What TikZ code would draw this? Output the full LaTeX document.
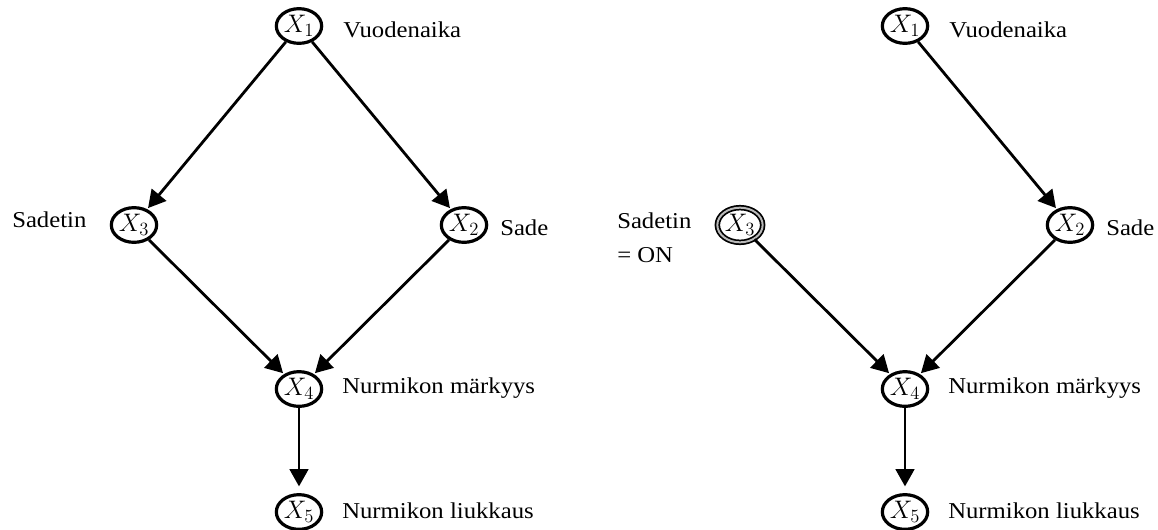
\RequirePackage{fix-cm}
\documentclass[tikz,border=0pt]{standalone}
\usepackage{fontspec}
\setmainfont[FakeStretch=1.09]{Liberation Serif}
\DeclareMathSizes{18}{19}{14}{10}
\usetikzlibrary{arrows.meta,shapes.geometric}
\begin{document}
\begin{tikzpicture}[x=0.75pt,y=-0.75pt,
  var/.style={ellipse,draw,line width=2.4pt,minimum width=34pt,minimum height=26pt,inner sep=0pt,font=\fontsize{18}{21}\selectfont},
  obs/.style={var,line width=1.3pt,double=gray!55,double distance=1.5pt},
  lbl/.style={anchor=base west,inner sep=0pt,font=\fontsize{17}{25.5}\selectfont,align=left},
  edge/.style={line width=2.1pt,-{Triangle[length=13pt,width=14pt]},shorten >=1pt}]
\useasboundingbox (0,0) rectangle (1158,529);
% left diagram
\node[var] (l1) at (299,26) {$X_1$};
\node[var] (l3) at (134,225) {$X_3$};
\node[var] (l2) at (464,225) {$X_2$};
\node[var] (l4) at (299,389) {$X_4$};
\node[var] (l5) at (299,512) {$X_5$};
\node[lbl] (t1) at (343,37) {Vuodenaika};
\node[lbl] (t3) at (12,227) {Sadetin};
\node[lbl] (t2) at (500,235) {Sade};
\node[lbl] (t4) at (342,393) {Nurmikon märkyys};
\node[lbl] (t5) at (342,518) {Nurmikon liukkaus};
\draw[edge] (l1) -- (l3);
\draw[edge] (l1) -- (l2);
\draw[edge] (l3) -- (l4);
\draw[edge] (l2) -- (l4);
\draw[edge,shorten >=5pt] (l4) -- (l5);
% right diagram
\node[var] (r1) at (905,26) {$X_1$};
\node[obs] (r3) at (740,225) {$X_3$};
\node[var] (r2) at (1070,225) {$X_2$};
\node[var] (r4) at (905,389) {$X_4$};
\node[var] (r5) at (905,512) {$X_5$};
\node[lbl] (u1) at (949,37) {Vuodenaika};
\node[lbl] (u3) at (617,262) {Sadetin\\ = ON};
\node[lbl] (u2) at (1106,235) {Sade};
\node[lbl] (u4) at (948,393) {Nurmikon märkyys};
\node[lbl] (u5) at (948,518) {Nurmikon liukkaus};
\draw[edge] (r1) -- (r2);
\draw[edge] (r3) -- (r4);
\draw[edge] (r2) -- (r4);
\draw[edge,shorten >=5pt] (r4) -- (r5);
\end{tikzpicture}
\end{document}
